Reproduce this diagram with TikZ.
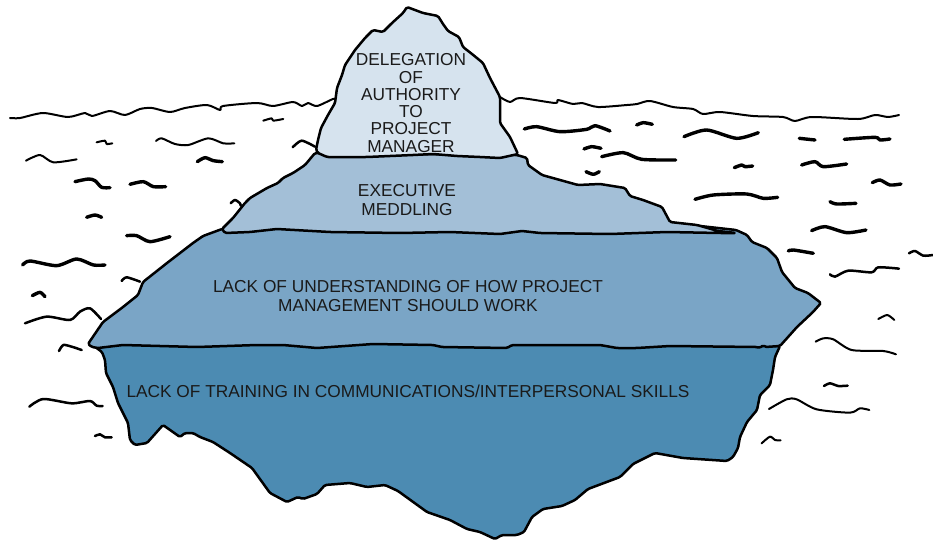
\documentclass[tikz,border=0pt]{standalone}
\usepackage{fontspec}
\setmainfont{Liberation Sans}
\definecolor{iceA}{HTML}{D6E3EE}
\definecolor{iceB}{HTML}{A3BFD7}
\definecolor{iceC}{HTML}{7AA5C6}
\definecolor{iceD}{HTML}{4C8BB2}
\definecolor{inkT}{HTML}{1A1A1A}
\tikzset{
 layer/.style={draw=black,line width=2.5pt,line join=round,rounded corners=1.5pt},
 wthin/.style={draw=black,line width=2pt,line cap=round,line join=round},
 wmid/.style={draw=black,line width=2.5pt,line cap=round,line join=round},
 wthick/.style={draw=black,line width=3.4pt,line cap=round,line join=round},
 lbl/.style={align=center,text=inkT,inner sep=0pt,font=\fontsize{17.3}{18.6}\selectfont},
 lbltip/.style={lbl,font=\fontsize{17.3}{17.3}\selectfont},
 zA/.style={shift={(0,90)},x=0.3333pt,y=-0.3333pt},
 zB/.style={shift={(500,90)},x=0.3333pt,y=-0.3333pt},
 zC/.style={shift={(0,340)},x=0.3333pt,y=-0.3333pt},
 zD/.style={shift={(450,300)},x=0.3333pt,y=-0.3333pt},
 wv/.style={smooth,tension=0.45}
}
\begin{document}
\begin{tikzpicture}[x=1pt,y=-1pt]
\useasboundingbox (0,0) rectangle (933,541);
% horizon
\draw[wthin] plot[wv] coordinates {(10,118) (20,118) (43,113) (68,117) (85,113) (92,116) (110,111) (125,115) (140,109) (152,108) (170,112) (185,108) (207,105) (220,110) (223,106) (257,103) (273,106) (293,102) (302,106) (308,103) (317,106) (333,99) (338,99)};
\draw[wthin] plot[wv] coordinates {(500,97) (510,102) (520,98) (555,103) (558,100) (573,104) (582,103) (598,107) (627,105) (637,104) (650,101) (673,107) (693,109) (703,114) (720,112) (753,116) (783,117) (795,121) (812,117) (858,119) (875,115) (888,117) (899,115)};
% left waves
\begin{scope}[zA]
\draw[wthin] plot[wv] coordinates {(290,157) (315,152) (320,162) (337,160)};
\draw[wthin] plot[wv] coordinates {(468,153) (485,145) (525,162) (565,165) (625,145) (670,160) (703,160)};
\draw[wthin] plot[wv] coordinates {(790,92) (815,85) (820,92) (850,87)};
\draw[wthin] plot[wv] coordinates {(78,212) (120,195) (160,217) (230,208)};
\draw[wmid] plot[wv] coordinates {(878,172) (905,152) (945,170)};
\draw[wthick] plot[wv] coordinates {(592,215) (615,203) (640,212) (667,215)};
\draw[wthick] plot[wv] coordinates {(225,275) (265,267) (285,272) (305,292) (330,293)};
\draw[wthick] plot[wv] coordinates {(390,283) (430,275) (460,290) (497,290)};
\draw[wthick] plot[wv] coordinates {(260,382) (285,375) (305,382)};
\draw[wthick] plot[wv] coordinates {(380,437) (410,437) (450,455) (510,440)};
\draw[wthick] plot[wv] coordinates {(68,525) (90,513) (170,527) (230,507) (280,525) (315,525)};
\draw[wmid] plot[wv] coordinates {(365,573) (380,562) (420,575)};
\draw[wthick] plot[wv] coordinates {(97,617) (120,607) (135,620)};
\draw[wmid] plot[wv] coordinates {(75,700) (140,680) (210,690) (240,665) (270,655) (303,687)};
\draw[wmid] plot[wv] coordinates {(692,340) (705,330) (720,340) (722,347)};
\end{scope}
\begin{scope}[zC]
\draw[wmid] plot[wv] coordinates {(177,33) (190,15) (215,20) (245,30)};
\draw[wmid] plot[wv] coordinates {(88,200) (130,177) (215,190) (270,183) (290,197) (308,198)};
\draw[wmid] plot[wv] coordinates {(285,288) (300,283) (315,292) (335,292)};
\end{scope}
% right waves
\begin{scope}[zB]
\draw[wthick] plot[wv] coordinates {(73,117) (110,110) (180,125) (260,118) (285,107) (330,123)};
\draw[wthick] plot[wv] coordinates {(410,105) (430,98) (457,103)};
\draw[wthick] plot[wv] coordinates {(552,140) (620,120) (710,145) (775,128)};
\draw[wthick] plot[wv] coordinates {(898,145) (945,150)};
\draw[wthick] plot[wv] coordinates {(1033,148) (1125,142) (1140,150) (1170,147)};
\draw[wthick] plot[wv] coordinates {(252,177) (275,170) (303,175)};
\draw[wthick] plot[wv] coordinates {(305,200) (370,188) (425,208) (527,210)};
\draw[wthick] plot[wv] coordinates {(258,245) (280,253) (298,245)};
\draw[wthick] plot[wv] coordinates {(703,233) (725,225) (735,230) (758,228)};
\draw[wthick] plot[wv] coordinates {(905,225) (945,215) (970,230) (1040,222)};
\draw[wthick] plot[wv] coordinates {(1117,278) (1140,270) (1170,285) (1203,282)};
\draw[wthick] plot[wv] coordinates {(990,335) (1010,342) (1068,340)};
\draw[wthick] plot[wv] coordinates {(585,328) (640,315) (740,312) (790,325) (833,322)};
\draw[wthick] plot[wv] coordinates {(935,422) (975,410) (1040,428) (1098,420)};
\draw[wthick] plot[wv] coordinates {(865,483) (880,480) (940,490)};
\draw[wmid] plot[wv] coordinates {(1227,490) (1245,483) (1270,497) (1299,495)};
\draw[wmid] plot[wv] coordinates {(990,553) (1005,560) (1045,542) (1115,547) (1135,532) (1197,536)};
\end{scope}
\begin{scope}[zD]
\draw[wthin] plot[wv] coordinates {(1285,57) (1312,45) (1333,60)};
\draw[wthin] plot[wv] coordinates {(1097,125) (1120,115) (1150,118) (1205,150) (1300,153) (1338,163)};
\draw[wmid] plot[wv] coordinates {(1122,258) (1140,250) (1165,258) (1193,257)};
\draw[wthin] plot[wv] coordinates {(957,327) (1010,298) (1040,298) (1100,328) (1200,338) (1230,325) (1258,330)};
\draw[wthin] plot[wv] coordinates {(935,430) (960,410) (975,420) (992,421)};
\end{scope}
% iceberg layers
\draw[layer,fill=iceD] (90,343) -- (102,352) -- (105,360) -- (106,373) -- (113,387) -- (118,403) -- (128,423) -- (130,440) -- (135,445) -- (147,443) -- (163,425) -- (180,437) -- (185,433) -- (193,433) -- (200,437) -- (213,442) -- (230,453) -- (252,468) -- (270,493) -- (287,502) -- (298,497) -- (303,499) -- (317,494) -- (325,485) -- (350,483) -- (367,487) -- (385,485) -- (398,491) -- (427,512) -- (450,520) -- (467,529) -- (480,532) -- (495,539) -- (502,535) -- (517,535) -- (524,532) -- (532,517) -- (543,509) -- (562,506) -- (575,500) -- (588,489) -- (620,477) -- (633,464) -- (655,453) -- (683,458) -- (727,461) -- (733,457) -- (738,448) -- (740,437) -- (747,422) -- (757,410) -- (760,395) -- (770,385) -- (773,370) -- (775,357) -- (780,346) -- (600,340) -- (300,340) -- cycle;
\draw[layer,fill=iceC] (222,229) -- (203,236) -- (193,243) -- (180,253) -- (167,263) -- (143,282) -- (138,295) -- (123,307) -- (103,322) -- (88,344) -- (92,347) -- (98,348) -- (123,345) -- (160,346) -- (197,347) -- (257,345) -- (283,345) -- (317,348) -- (373,344) -- (433,345) -- (442,347) -- (507,348) -- (512,345) -- (600,345) -- (617,348) -- (637,348) -- (670,346) -- (757,347) -- (760,348) -- (763,345) -- (765,347) -- (780,346) -- (797,327) -- (813,312) -- (821,303) -- (808,293) -- (795,288) -- (782,272) -- (777,258) -- (767,248) -- (752,242) -- (747,235) -- (736,230) -- (700,226) -- (400,226) -- cycle;
\draw[layer,fill=iceB] (315,153) -- (305,165) -- (293,173) -- (283,178) -- (278,183) -- (267,188) -- (250,198) -- (245,203) -- (233,218) -- (222,229) -- (225,233) -- (250,232) -- (277,229) -- (330,232) -- (400,233) -- (450,232) -- (500,234) -- (522,231) -- (540,233) -- (610,234) -- (667,232) -- (720,233) -- (736,233) -- (718,231) -- (697,225) -- (670,222) -- (662,207) -- (643,200) -- (630,196) -- (625,188) -- (600,184) -- (578,185) -- (560,180) -- (542,175) -- (528,165) -- (527,158) -- (517,155) -- cycle;
\draw[layer,fill=iceA] (316,150) -- (318,140) -- (321,128) -- (328,115) -- (335,103) -- (337,88) -- (342,75) -- (345,65) -- (355,50) -- (365,38) -- (373,30) -- (383,32) -- (392,23) -- (403,13) -- (407,7) -- (415,10) -- (423,13) -- (438,16) -- (443,24) -- (448,31) -- (459,37) -- (463,47) -- (472,54) -- (483,63) -- (490,78) -- (500,97) -- (500,123) -- (510,137) -- (518,154) -- (500,158) -- (480,157) -- (457,156) -- (433,154) -- (413,155) -- (390,156) -- (367,157) -- (343,157) -- (327,157) -- (318,153) -- cycle;
% labels
\node[lbltip] (tip) at (411,103) {DELEGATION\\OF\\AUTHORITY\\TO\\PROJECT\\MANAGER};
\node[lbl] (exec) at (407,200) {EXECUTIVE\\MEDDLING};
\node[lbl] (under) at (408,296) {LACK OF UNDERSTANDING OF HOW PROJECT\\MANAGEMENT SHOULD WORK};
\node[lbl] (train) at (408,391) {LACK OF TRAINING IN COMMUNICATIONS/INTERPERSONAL SKILLS};
\end{tikzpicture}
\end{document}
